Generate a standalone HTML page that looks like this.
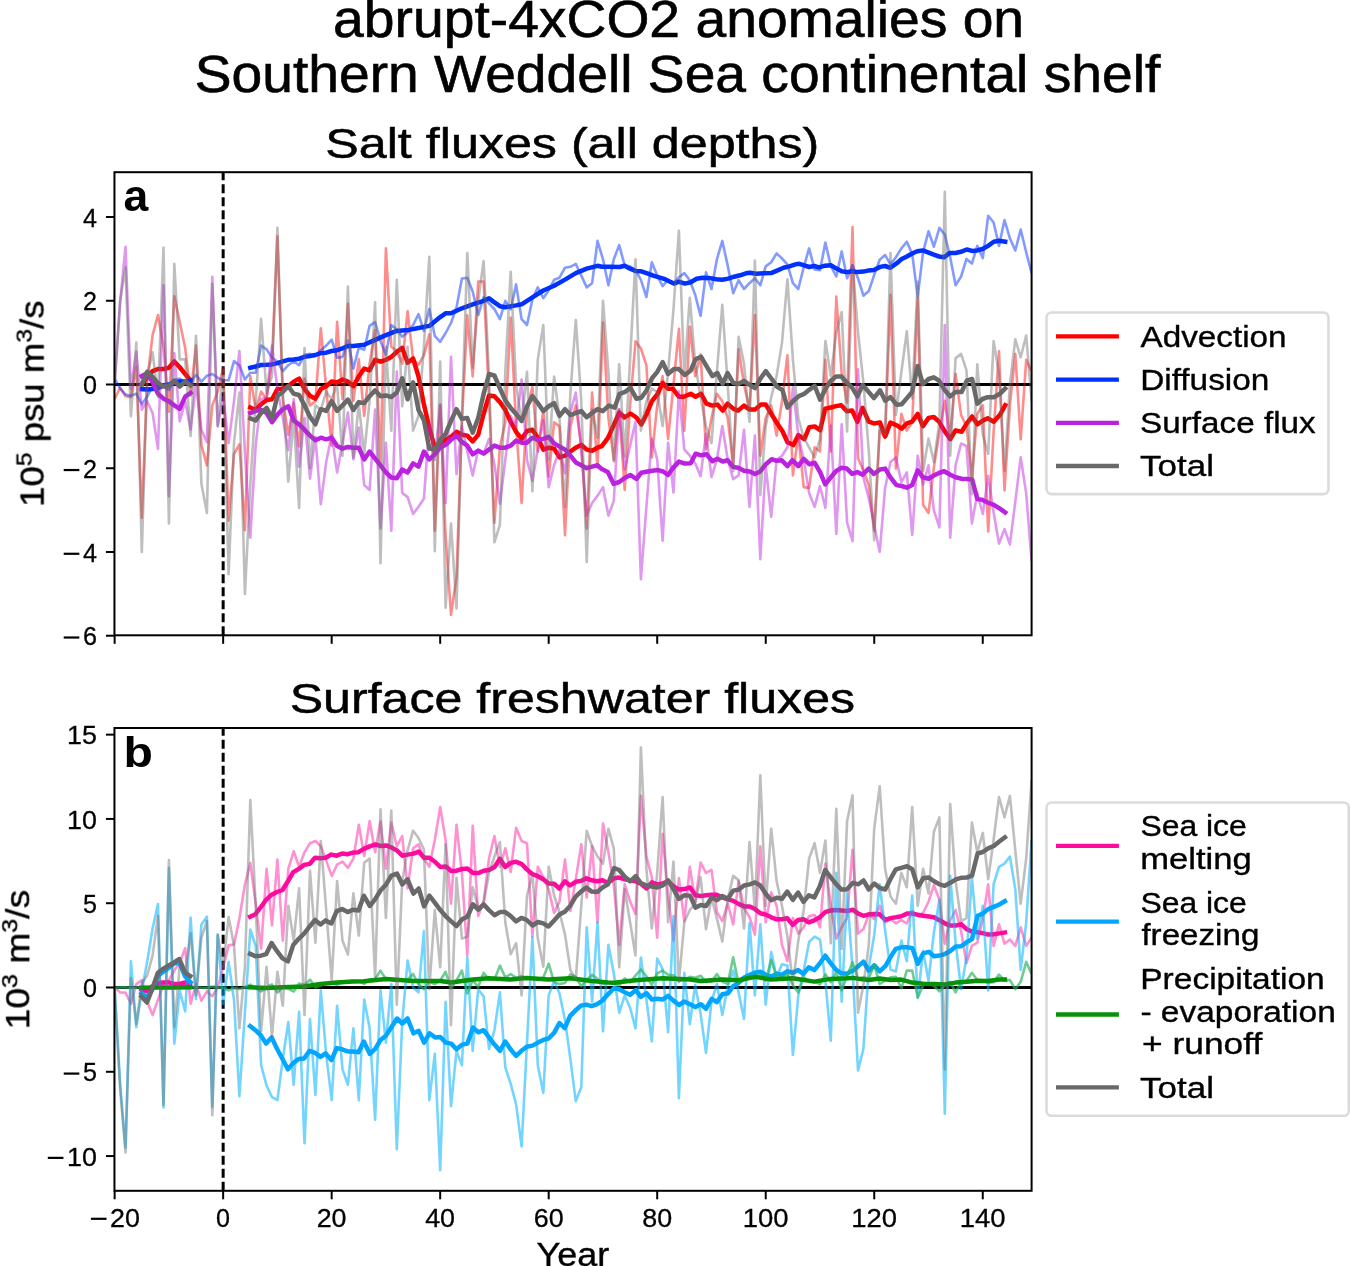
<!DOCTYPE html>
<html><head><meta charset="utf-8"><title>abrupt-4xCO2 anomalies</title>
<style>html,body{margin:0;padding:0;background:#fff}body{width:1350px;height:1266px;overflow:hidden;position:relative;font-family:"Liberation Sans",sans-serif}</style>
</head><body>
<svg width="1350" height="1266" viewBox="0 0 1350 1266" style="display:block;position:absolute;left:0;top:0;will-change:transform">
<defs><clipPath id="ca"><rect x="114.45" y="172.20" width="917.15" height="463.10"/></clipPath><clipPath id="cb"><rect x="114.45" y="728.00" width="917.15" height="462.80"/></clipPath></defs>
<rect width="1350" height="1266" fill="#fff"/>
<line x1="114.45" y1="384.50" x2="1031.60" y2="384.50" stroke="#000" stroke-width="2.8"/><line x1="223.15" y1="635.30" x2="223.15" y2="172.20" stroke="#000" stroke-width="3.0" stroke-dasharray="9.1 3.9"/>
<g clip-path="url(#ca)" fill="none" stroke-linejoin="round">
<path d="M114.6 399.2 L120.1 387.8 L125.5 396.2 L130.9 397.1 L136.3 366.5 L141.8 517.6 L147.2 380.3 L152.6 335.1 L158.0 315.0 L163.5 346.8 L168.9 411.7 L174.3 296.2 L179.7 321.7 L185.2 348.1 L190.6 395.4 L196.0 345.6 L201.4 444.8 L206.9 465.3 L212.3 405.4 L217.7 391.6 L223.2 367.8 L228.6 520.6 L234.0 454.0 L239.4 444.4 L244.9 530.2 L250.3 376.1 L255.7 409.6 L261.1 391.6 L266.6 399.2 L272.0 359.4 L277.4 236.3 L282.8 399.2 L288.3 434.7 L293.7 402.9 L299.1 446.5 L304.5 378.6 L310.0 405.4 L315.4 401.2 L320.8 328.4 L326.2 388.7 L331.7 445.6 L337.1 321.7 L342.5 399.2 L347.9 303.7 L353.4 401.2 L358.8 359.4 L364.2 415.9 L369.6 363.6 L375.1 330.1 L380.5 464.1 L385.9 248.4 L391.3 346.8 L396.8 351.0 L402.2 363.6 L407.6 311.2 L413.1 359.4 L418.5 364.8 L423.9 355.2 L429.3 334.3 L434.8 530.6 L440.2 405.4 L445.6 535.2 L451.0 614.8 L456.5 577.1 L461.9 422.2 L467.3 315.4 L472.7 376.5 L478.2 281.5 L483.6 281.5 L489.0 397.1 L494.4 522.7 L499.9 447.3 L505.3 422.2 L510.7 317.5 L516.1 426.4 L521.6 503.0 L527.0 409.6 L532.4 386.6 L537.8 451.5 L543.3 409.6 L548.7 476.6 L554.1 422.2 L559.5 426.4 L565.0 535.2 L570.4 426.4 L575.8 405.4 L581.3 447.3 L586.7 528.5 L592.1 392.5 L597.5 467.4 L603.0 322.5 L608.4 418.0 L613.8 459.9 L619.2 409.6 L624.7 490.0 L630.1 405.4 L635.5 341.4 L640.9 348.5 L646.4 365.2 L651.8 457.4 L657.2 405.4 L662.6 376.1 L668.1 438.9 L673.5 384.5 L678.9 328.8 L684.3 430.6 L689.8 326.7 L695.2 376.1 L700.6 354.4 L706.0 449.4 L711.5 418.0 L716.9 393.7 L722.3 401.2 L727.7 418.0 L733.2 465.3 L738.6 349.3 L744.0 384.5 L749.5 409.6 L754.9 315.0 L760.3 455.7 L765.7 418.0 L771.2 405.4 L776.6 435.6 L782.0 401.2 L787.4 355.2 L792.9 475.4 L798.3 434.7 L803.7 487.1 L809.1 487.9 L814.6 447.3 L820.0 451.5 L825.4 359.8 L830.8 451.5 L836.3 296.6 L841.7 374.0 L847.1 402.5 L852.5 227.1 L858.0 458.2 L863.4 470.3 L868.8 485.0 L874.2 530.6 L879.7 430.6 L885.1 437.7 L890.5 294.9 L895.9 468.7 L901.4 413.8 L906.8 430.6 L912.2 422.2 L917.7 298.2 L923.1 504.7 L928.5 513.0 L933.9 467.0 L939.4 432.2 L944.8 400.8 L950.2 437.7 L955.6 374.0 L961.1 415.1 L966.5 426.4 L971.9 477.5 L977.3 413.8 L982.8 405.4 L988.2 531.5 L993.6 432.2 L999.0 351.4 L1004.5 490.4 L1009.9 405.4 L1015.3 353.9 L1020.7 439.3 L1026.2 359.8 L1031.6 371.1" stroke="#ff0000" stroke-opacity="0.45" stroke-width="2.6"/>
<path d="M141.8 384.5 L147.2 377.0 L152.6 371.1 L158.0 369.0 L163.5 369.0 L168.9 367.8 L174.3 361.5 L179.7 367.3 L185.2 374.0 L190.6 380.7" stroke="#ff0000" stroke-width="4.5" stroke-linecap="square"/>
<path d="M250.3 407.5 L255.7 410.0 L261.1 404.2 L266.6 400.0 L272.0 399.2 L277.4 389.1 L282.8 388.7 L288.3 386.2 L293.7 381.6 L299.1 378.6 L304.5 389.1 L310.0 395.8 L315.4 398.7 L320.8 389.1 L326.2 386.2 L331.7 381.6 L337.1 382.4 L342.5 379.5 L347.9 381.6 L353.4 386.2 L358.8 376.5 L364.2 368.6 L369.6 370.3 L375.1 359.8 L380.5 361.7 L385.9 359.8 L391.3 356.9 L396.8 351.8 L402.2 347.9 L407.6 362.7 L413.1 358.5 L418.5 376.5 L423.9 404.2 L429.3 428.0 L434.8 447.7 L440.2 443.5 L445.6 439.8 L451.0 436.8 L456.5 431.8 L461.9 434.7 L467.3 435.6 L472.7 441.4 L478.2 434.7 L483.6 414.0 L489.0 395.4 L494.4 396.2 L499.9 402.1 L505.3 410.0 L510.7 421.8 L516.1 431.8 L521.6 438.9 L527.0 431.0 L532.4 429.7 L537.8 437.7 L543.3 449.6 L548.7 447.7 L554.1 448.6 L559.5 457.4 L565.0 455.7 L570.4 451.5 L575.8 447.7 L581.3 444.8 L586.7 449.6 L592.1 450.7 L597.5 447.7 L601.8 446.1 L607.8 438.2 L613.7 425.4 L619.2 412.5 L624.6 417.5 L630.5 413.5 L636.4 417.5 L641.3 424.4 L646.3 414.5 L652.2 400.7 L657.1 394.8 L662.7 382.9 L668.0 388.8 L672.9 388.8 L678.9 396.7 L683.8 396.7 L690.7 393.8 L695.6 396.7 L701.0 393.8 L706.5 403.6 L712.4 405.6 L717.4 404.6 L722.7 410.6 L727.6 403.6 L733.2 408.6 L738.1 410.6 L744.0 405.6 L749.6 409.6 L754.9 409.6 L760.8 404.6 L765.8 404.6 L771.7 414.5 L777.2 423.4 L782.5 431.3 L787.5 442.2 L793.4 445.1 L798.3 435.2 L804.3 439.2 L809.2 427.3 L814.7 426.4 L820.1 430.3 L825.2 408.7 L830.8 407.5 L836.0 406.1 L841.2 405.2 L846.9 411.3 L852.1 410.4 L857.4 421.7 L862.6 407.8 L868.7 421.7 L873.9 423.4 L880.0 422.6 L885.2 436.5 L890.4 422.6 L896.5 425.2 L901.7 428.7 L906.9 423.4 L912.1 421.7 L917.7 413.9 L922.9 426.1 L928.6 417.9 L933.8 417.0 L939.0 421.7 L944.2 430.4 L950.3 439.1 L955.5 430.4 L961.6 431.8 L966.8 423.4 L972.1 416.5 L977.3 424.3 L982.5 420.8 L987.7 418.2 L993.8 421.7 L999.9 414.8 L1005.2 405.2" stroke="#ff0000" stroke-width="4.5" stroke-linecap="square"/>
<path d="M114.6 378.6 L120.1 388.3 L125.5 394.5 L130.9 395.8 L136.3 393.7 L141.8 404.2 L147.2 396.6 L152.6 386.2 L158.0 384.5 L163.5 386.2 L168.9 389.9 L174.3 380.3 L179.7 378.6 L185.2 382.4 L190.6 381.6 L196.0 374.9 L201.4 381.6 L206.9 375.7 L212.3 374.0 L217.7 377.8 L223.2 380.3 L228.6 380.3 L234.0 361.1 L239.4 365.2 L244.9 379.5 L250.3 372.8 L255.7 372.8 L261.1 345.6 L266.6 349.3 L272.0 357.7 L277.4 361.5 L282.8 371.1 L288.3 365.2 L293.7 361.5 L299.1 365.2 L304.5 354.8 L310.0 353.9 L315.4 356.0 L320.8 350.2 L326.2 345.6 L331.7 339.7 L337.1 357.7 L342.5 356.9 L347.9 340.5 L353.4 368.6 L358.8 347.7 L364.2 349.7 L369.6 325.9 L375.1 322.1 L380.5 341.0 L385.9 354.8 L391.3 325.0 L396.8 329.2 L402.2 336.8 L407.6 332.2 L413.1 325.0 L418.5 314.2 L423.9 330.9 L429.3 309.1 L434.8 335.9 L440.2 341.8 L445.6 333.0 L451.0 323.0 L456.5 307.5 L461.9 278.6 L467.3 277.7 L472.7 291.5 L478.2 315.0 L483.6 297.4 L489.0 303.3 L494.4 309.1 L499.9 319.2 L505.3 300.8 L510.7 309.1 L516.1 284.4 L521.6 319.2 L527.0 325.0 L532.4 299.5 L537.8 287.4 L543.3 298.2 L548.7 290.3 L554.1 279.8 L559.5 277.7 L565.0 267.7 L570.4 266.8 L575.8 263.9 L581.3 275.6 L586.7 287.4 L592.1 283.2 L597.5 240.9 L603.0 259.3 L608.4 285.3 L613.8 259.3 L619.2 245.1 L624.7 265.6 L630.1 266.4 L635.5 270.2 L640.9 279.8 L646.4 297.0 L651.8 262.2 L657.2 275.6 L662.6 286.1 L668.1 279.8 L673.5 283.2 L678.9 277.3 L684.3 273.1 L689.8 280.2 L695.2 294.9 L700.6 315.8 L706.0 272.3 L711.5 289.0 L716.9 259.3 L722.3 240.9 L727.7 265.6 L733.2 293.2 L738.6 280.2 L744.0 289.0 L749.5 283.2 L754.9 278.2 L760.3 285.3 L765.7 266.4 L771.2 262.2 L776.6 253.4 L782.0 258.5 L787.4 264.3 L792.9 283.2 L798.3 289.0 L803.7 267.3 L809.1 248.4 L814.6 269.4 L820.0 270.2 L825.4 242.6 L830.8 266.0 L836.3 276.5 L841.7 251.4 L847.1 278.2 L852.5 265.2 L858.0 278.2 L863.4 295.7 L868.8 291.1 L874.2 274.8 L879.7 259.7 L885.1 255.1 L890.5 264.3 L895.9 257.2 L901.4 248.4 L906.8 241.7 L912.2 253.9 L917.7 296.6 L923.1 252.2 L928.5 231.3 L933.9 246.7 L939.4 227.9 L944.8 234.6 L950.2 257.2 L955.6 285.3 L961.1 276.5 L966.5 258.9 L971.9 263.5 L977.3 245.9 L982.8 258.1 L988.2 215.8 L993.6 222.5 L999.0 245.9 L1004.5 220.0 L1009.9 238.4 L1015.3 250.5 L1020.7 229.6 L1026.2 252.2 L1031.6 273.1" stroke="#0230ff" stroke-opacity="0.49" stroke-width="2.6"/>
<path d="M141.8 389.1 L147.2 389.5 L152.6 389.1 L158.0 388.3 L163.5 385.3 L168.9 384.5 L174.3 382.4 L179.7 381.6 L185.2 381.6 L190.6 380.7" stroke="#0230ff" stroke-width="4.5" stroke-linecap="square"/>
<path d="M250.3 367.8 L255.7 366.5 L261.1 365.0 L266.6 364.8 L272.0 364.4 L277.4 363.1 L282.8 361.3 L288.3 359.8 L293.7 359.4 L299.1 358.7 L304.5 356.9 L310.0 356.0 L315.4 355.0 L320.8 353.1 L326.2 352.7 L331.7 351.0 L337.1 350.2 L342.5 348.3 L347.9 346.0 L353.4 346.0 L364.2 344.7 L375.1 339.9 L385.9 335.1 L396.8 330.9 L407.6 330.1 L418.5 328.0 L429.3 325.9 L440.2 317.1 L445.6 313.3 L451.0 313.3 L461.9 308.3 L472.7 304.3 L483.6 300.8 L489.0 298.2 L494.4 302.4 L499.9 306.2 L505.3 307.2 L516.1 305.4 L521.6 304.3 L532.4 297.4 L543.3 290.5 L554.1 285.7 L565.0 279.6 L575.8 273.1 L586.7 268.7 L597.5 265.8 L601.8 266.8 L609.7 266.8 L619.6 267.0 L624.6 265.8 L629.5 268.4 L635.4 270.9 L641.3 271.3 L647.3 273.3 L653.2 275.7 L659.1 277.3 L665.0 279.2 L669.0 281.2 L673.9 283.6 L678.9 281.6 L684.8 283.6 L690.7 282.2 L696.6 278.8 L702.6 277.7 L708.5 277.9 L716.4 279.2 L722.3 279.8 L728.2 278.6 L734.2 276.7 L740.1 275.3 L746.0 273.3 L750.0 272.7 L755.9 273.7 L763.8 273.3 L771.7 272.9 L777.6 270.4 L783.5 267.8 L789.4 266.4 L795.4 264.4 L799.3 263.8 L804.3 265.4 L809.2 267.0 L814.1 266.0 L819.1 267.4 L825.2 265.7 L830.8 265.2 L836.5 268.6 L841.7 271.2 L846.9 272.1 L852.1 271.2 L857.4 272.1 L863.4 271.6 L868.7 270.4 L873.9 269.9 L880.0 266.9 L885.2 266.0 L890.4 267.8 L896.5 263.4 L901.7 259.1 L906.9 256.5 L912.1 253.5 L917.3 251.3 L922.9 250.4 L928.6 252.7 L933.8 254.7 L939.0 256.5 L944.2 257.3 L949.5 253.0 L955.5 253.0 L960.8 251.8 L966.8 249.5 L972.1 250.9 L977.3 250.4 L982.5 249.0 L987.7 246.1 L993.8 241.7 L999.0 240.8 L1005.2 241.7" stroke="#0230ff" stroke-width="4.5" stroke-linecap="square"/>
<path d="M114.6 384.5 L120.1 302.9 L125.5 246.7 L130.9 388.7 L136.3 351.8 L141.8 409.6 L147.2 401.2 L152.6 413.0 L158.0 449.0 L163.5 285.3 L168.9 496.3 L174.3 353.1 L179.7 421.3 L185.2 401.2 L190.6 429.7 L196.0 384.5 L201.4 429.7 L206.9 442.3 L212.3 276.9 L217.7 426.4 L223.2 397.1 L228.6 443.1 L234.0 401.2 L239.4 351.0 L244.9 451.5 L250.3 537.7 L255.7 444.8 L261.1 399.2 L266.6 397.1 L272.0 345.6 L277.4 388.7 L282.8 418.0 L288.3 450.2 L293.7 399.2 L299.1 466.6 L304.5 418.0 L310.0 478.7 L315.4 436.8 L320.8 504.2 L326.2 462.0 L331.7 434.7 L337.1 472.4 L342.5 443.1 L347.9 412.6 L353.4 459.4 L358.8 427.6 L364.2 485.0 L369.6 490.0 L375.1 409.6 L380.5 528.5 L385.9 442.7 L391.3 530.6 L396.8 371.5 L402.2 492.9 L407.6 497.1 L413.1 513.9 L418.5 506.8 L423.9 498.8 L429.3 423.9 L434.8 459.9 L440.2 404.2 L445.6 503.0 L451.0 356.9 L456.5 474.1 L461.9 426.0 L467.3 451.5 L472.7 475.4 L478.2 449.4 L483.6 453.6 L489.0 438.9 L494.4 464.1 L499.9 503.8 L505.3 459.9 L510.7 415.9 L516.1 426.4 L521.6 379.5 L527.0 459.9 L532.4 480.8 L537.8 449.4 L543.3 420.1 L548.7 487.1 L554.1 465.3 L559.5 449.4 L565.0 473.3 L570.4 412.1 L575.8 392.5 L581.3 449.4 L586.7 515.6 L592.1 503.0 L597.5 495.9 L603.0 487.1 L608.4 515.6 L613.8 500.9 L619.2 409.2 L624.7 469.5 L630.1 445.6 L635.5 421.8 L640.9 579.2 L646.4 506.8 L651.8 438.5 L657.2 459.4 L662.6 540.7 L668.1 442.7 L673.5 492.5 L678.9 391.2 L684.3 449.4 L689.8 455.7 L695.2 463.2 L700.6 476.2 L706.0 433.9 L711.5 477.0 L716.9 459.4 L722.3 426.0 L727.7 459.4 L733.2 479.1 L738.6 475.4 L744.0 429.7 L749.5 506.8 L754.9 435.6 L760.3 559.1 L765.7 465.3 L771.2 516.8 L776.6 459.9 L782.0 455.7 L787.4 447.3 L792.9 387.4 L798.3 435.6 L803.7 459.9 L809.1 492.9 L814.6 506.8 L820.0 486.2 L825.4 508.0 L830.8 425.5 L836.3 534.0 L841.7 424.3 L847.1 522.7 L852.5 541.1 L858.0 369.4 L863.4 477.5 L868.8 498.4 L874.2 525.2 L879.7 552.0 L885.1 487.9 L890.5 462.0 L895.9 457.4 L901.4 482.1 L906.8 472.4 L912.2 534.8 L917.7 455.7 L923.1 484.6 L928.5 465.3 L933.9 510.5 L939.4 527.3 L944.8 325.0 L950.2 537.7 L955.6 465.3 L961.1 443.5 L966.5 446.0 L971.9 523.5 L977.3 493.4 L982.8 513.9 L988.2 475.8 L993.6 512.2 L999.0 543.6 L1004.5 529.0 L1009.9 544.4 L1015.3 501.7 L1020.7 457.4 L1026.2 493.4 L1031.6 561.2" stroke="#bb22e0" stroke-opacity="0.47" stroke-width="2.6"/>
<path d="M141.8 376.1 L147.2 373.2 L152.6 382.4 L158.0 393.7 L163.5 398.7 L168.9 401.2 L174.3 405.4 L179.7 408.8 L185.2 396.6 L190.6 392.9" stroke="#bb22e0" stroke-width="4.5" stroke-linecap="square"/>
<path d="M250.3 413.0 L255.7 410.9 L261.1 410.0 L266.6 413.0 L272.0 422.2 L277.4 414.6 L282.8 409.2 L288.3 406.3 L293.7 420.5 L299.1 424.3 L304.5 429.7 L310.0 435.6 L315.4 440.2 L320.8 437.7 L326.2 439.3 L331.7 437.7 L337.1 446.0 L342.5 448.6 L347.9 446.9 L353.4 447.7 L358.8 447.7 L364.2 459.4 L369.6 451.5 L375.1 458.6 L380.5 465.3 L385.9 472.4 L391.3 477.5 L396.8 478.3 L402.2 469.5 L407.6 472.4 L413.1 463.4 L418.5 466.6 L423.9 451.5 L429.3 459.4 L434.8 454.4 L440.2 447.7 L445.6 444.8 L451.0 439.8 L456.5 435.8 L461.9 441.9 L467.3 445.6 L472.7 454.4 L478.2 450.7 L483.6 453.6 L489.0 449.6 L494.4 445.6 L499.9 447.7 L505.3 447.7 L510.7 445.6 L516.1 440.6 L521.6 442.7 L527.0 442.7 L532.4 437.7 L537.8 439.8 L543.3 438.9 L548.7 436.8 L554.1 443.5 L559.5 446.5 L565.0 449.6 L570.4 455.7 L575.8 462.4 L581.3 465.3 L586.7 468.2 L592.1 466.6 L597.5 465.3 L601.8 469.1 L607.8 472.1 L613.7 483.9 L619.2 482.0 L624.6 478.0 L630.5 475.0 L636.4 479.0 L641.3 472.7 L646.3 471.7 L652.2 470.7 L658.1 470.1 L663.1 471.5 L668.0 475.0 L672.9 468.1 L678.9 461.6 L684.8 463.6 L690.7 463.2 L695.6 453.7 L701.0 455.3 L706.5 454.3 L712.4 461.2 L717.4 458.8 L722.7 461.6 L727.6 460.2 L733.2 467.1 L738.1 467.7 L744.0 470.7 L749.6 471.5 L754.9 474.1 L760.2 471.5 L765.8 464.2 L771.7 459.2 L776.6 460.8 L781.5 460.2 L787.5 466.2 L792.4 460.2 L798.3 466.2 L803.7 458.8 L809.2 464.2 L814.7 462.8 L820.1 472.1 L825.2 484.3 L830.8 477.3 L836.0 471.2 L841.2 467.8 L846.9 468.6 L852.1 473.8 L857.4 472.1 L862.6 474.7 L868.7 468.6 L873.9 473.8 L880.0 469.5 L885.2 468.6 L890.4 477.3 L896.5 485.1 L901.7 486.0 L906.9 487.7 L912.1 485.1 L917.7 470.4 L922.9 477.3 L928.6 478.7 L933.8 475.6 L939.0 473.0 L944.2 471.2 L950.3 474.7 L955.5 477.3 L961.6 478.7 L966.8 479.1 L972.1 479.4 L977.3 499.0 L982.5 499.9 L987.7 502.5 L993.8 504.8 L999.9 508.6 L1005.2 512.4" stroke="#bb22e0" stroke-width="4.5" stroke-linecap="square"/>
<path d="M114.6 384.5 L120.1 300.8 L125.5 267.3 L130.9 416.3 L136.3 342.6 L141.8 552.0 L147.2 376.1 L152.6 352.3 L158.0 397.1 L163.5 247.6 L168.9 523.5 L174.3 263.9 L179.7 359.4 L185.2 359.4 L190.6 436.0 L196.0 335.9 L201.4 483.7 L206.9 513.0 L212.3 284.0 L217.7 425.5 L223.2 369.8 L228.6 574.2 L234.0 443.1 L239.4 392.5 L244.9 593.9 L250.3 485.0 L255.7 401.2 L261.1 318.8 L266.6 392.9 L272.0 376.1 L277.4 227.9 L282.8 392.9 L288.3 481.6 L293.7 418.0 L299.1 508.0 L304.5 348.1 L310.0 468.2 L315.4 405.4 L320.8 409.6 L326.2 391.6 L331.7 399.2 L337.1 384.5 L342.5 455.7 L347.9 286.5 L353.4 457.4 L358.8 404.2 L364.2 453.6 L369.6 401.2 L375.1 302.4 L380.5 563.3 L385.9 346.8 L391.3 430.6 L396.8 279.8 L402.2 406.3 L407.6 346.8 L413.1 430.6 L418.5 415.9 L423.9 346.8 L429.3 256.8 L434.8 551.1 L440.2 361.5 L445.6 607.7 L451.0 523.5 L456.5 608.5 L461.9 418.0 L467.3 253.0 L472.7 367.8 L478.2 300.8 L483.6 261.0 L489.0 376.1 L494.4 542.3 L499.9 524.8 L505.3 371.9 L510.7 271.9 L516.1 384.5 L521.6 422.2 L527.0 371.9 L532.4 491.3 L537.8 359.4 L543.3 325.0 L548.7 459.4 L554.1 376.5 L559.5 418.0 L565.0 506.8 L570.4 392.9 L575.8 320.0 L581.3 401.2 L586.7 562.0 L592.1 409.6 L597.5 437.7 L603.0 300.8 L608.4 371.9 L613.8 461.5 L619.2 364.4 L624.7 456.5 L630.1 359.4 L635.5 259.3 L640.9 430.6 L646.4 401.2 L651.8 388.7 L657.2 392.0 L662.6 426.0 L668.1 371.9 L673.5 309.1 L678.9 230.8 L684.3 376.1 L689.8 297.8 L695.2 363.6 L700.6 397.1 L706.0 426.4 L711.5 443.1 L716.9 371.9 L722.3 304.9 L727.7 384.5 L733.2 471.2 L738.6 336.8 L744.0 363.6 L749.5 421.8 L754.9 260.6 L760.3 495.0 L765.7 426.4 L771.2 397.1 L776.6 376.1 L782.0 342.6 L787.4 279.4 L792.9 359.4 L798.3 418.0 L803.7 437.7 L809.1 447.3 L814.6 457.4 L820.0 438.9 L825.4 341.0 L830.8 376.1 L836.3 332.2 L841.7 312.1 L847.1 431.4 L852.5 265.2 L858.0 332.2 L863.4 382.4 L868.8 451.5 L874.2 540.3 L879.7 426.4 L885.1 434.7 L890.5 253.0 L895.9 415.1 L901.4 371.9 L906.8 331.3 L912.2 398.3 L917.7 281.5 L923.1 470.8 L928.5 438.5 L933.9 462.0 L939.4 422.2 L944.8 191.9 L950.2 455.7 L955.6 358.1 L961.1 353.9 L966.5 370.3 L971.9 494.2 L977.3 364.4 L982.8 434.7 L988.2 454.0 L993.6 341.0 L999.0 374.0 L1004.5 470.8 L1009.9 384.5 L1015.3 339.3 L1020.7 357.3 L1026.2 335.5 L1031.6 401.2" stroke="#696969" stroke-opacity="0.43" stroke-width="2.6"/>
<path d="M141.8 384.5 L147.2 371.9 L152.6 377.0 L158.0 383.2 L163.5 386.6 L168.9 386.2 L174.3 380.7 L179.7 386.6 L185.2 381.6 L190.6 385.3" stroke="#696969" stroke-width="4.5" stroke-linecap="square"/>
<path d="M250.3 418.4 L255.7 420.5 L261.1 413.0 L266.6 407.9 L272.0 418.4 L277.4 395.8 L282.8 392.0 L288.3 386.2 L293.7 393.7 L299.1 395.0 L304.5 405.4 L310.0 416.7 L315.4 424.3 L320.8 409.2 L326.2 410.9 L331.7 401.2 L337.1 410.9 L342.5 405.4 L347.9 399.6 L353.4 410.0 L358.8 402.1 L364.2 403.1 L369.6 396.2 L375.1 390.4 L380.5 396.2 L385.9 395.4 L391.3 397.1 L396.8 392.5 L402.2 378.4 L407.6 399.2 L413.1 382.4 L418.5 410.0 L423.9 420.1 L429.3 448.6 L434.8 449.6 L440.2 439.8 L445.6 433.9 L451.0 420.9 L456.5 409.2 L461.9 418.8 L467.3 418.0 L472.7 432.7 L478.2 418.0 L483.6 394.1 L489.0 374.0 L494.4 375.5 L499.9 388.3 L505.3 400.2 L510.7 407.9 L516.1 414.0 L521.6 420.9 L527.0 406.3 L532.4 396.2 L537.8 403.1 L543.3 411.1 L548.7 406.3 L554.1 403.1 L559.5 415.9 L565.0 409.2 L570.4 415.1 L575.8 413.0 L581.3 411.1 L586.7 417.2 L592.1 413.0 L597.5 409.2 L602.8 411.2 L608.8 405.6 L614.7 407.6 L619.6 393.8 L624.6 392.2 L630.5 387.9 L636.4 398.7 L641.3 397.7 L646.3 390.8 L652.2 378.0 L657.1 372.1 L662.7 362.2 L668.0 374.0 L673.9 369.1 L678.9 369.1 L684.8 375.0 L690.7 370.5 L695.6 359.2 L701.0 356.7 L706.5 366.1 L712.4 376.0 L717.4 373.0 L722.7 383.9 L727.6 373.0 L733.2 382.9 L738.1 383.9 L744.0 380.9 L749.6 384.9 L754.9 388.2 L760.8 378.0 L765.8 371.1 L771.7 379.0 L777.2 386.9 L782.5 390.2 L787.5 407.6 L793.4 400.7 L799.3 395.8 L804.3 393.8 L809.2 389.8 L814.7 385.9 L820.1 399.7 L825.2 389.4 L830.8 380.7 L836.0 376.4 L841.2 376.4 L846.9 382.5 L852.1 387.7 L857.4 396.4 L862.6 385.1 L868.7 392.0 L873.9 398.1 L880.0 390.3 L885.2 400.7 L890.4 397.2 L896.5 404.7 L901.7 404.2 L906.9 398.1 L912.1 392.0 L917.7 366.0 L922.9 384.2 L928.6 379.0 L933.8 377.3 L939.0 380.7 L944.2 389.4 L950.3 396.4 L955.5 392.0 L961.6 392.0 L966.8 380.7 L972.1 379.0 L977.3 403.7 L982.5 399.0 L987.7 397.2 L993.8 397.2 L999.9 393.8 L1005.2 388.5" stroke="#696969" stroke-width="4.5" stroke-linecap="square"/>
</g>
<line x1="114.45" y1="987.50" x2="1031.60" y2="987.50" stroke="#000" stroke-width="2.8"/><line x1="223.15" y1="1190.80" x2="223.15" y2="728.00" stroke="#000" stroke-width="3.0" stroke-dasharray="9.1 3.9"/>
<g clip-path="url(#cb)" fill="none" stroke-linejoin="round">
<path d="M114.6 987.5 L120.1 992.4 L125.5 992.6 L130.9 1003.7 L136.3 984.1 L141.8 980.1 L147.2 1001.7 L152.6 1015.0 L158.0 999.6 L163.5 984.1 L168.9 980.1 L174.3 970.6 L179.7 962.6 L185.2 948.2 L190.6 1003.7 L196.0 984.1 L201.4 1000.6 L206.9 991.4 L212.3 996.4 L217.7 987.5 L223.2 967.3 L228.6 945.4 L234.0 944.5 L239.4 918.4 L244.9 884.7 L250.3 862.8 L255.7 903.7 L261.1 948.7 L266.6 868.8 L272.0 925.3 L277.4 859.6 L282.8 940.6 L288.3 868.8 L293.7 851.3 L299.1 866.8 L304.5 852.3 L310.0 843.2 L315.4 841.0 L320.8 846.2 L326.2 860.6 L331.7 875.9 L337.1 864.6 L342.5 861.6 L347.9 867.8 L353.4 858.5 L358.8 824.7 L364.2 856.0 L369.6 821.1 L375.1 852.3 L380.5 821.6 L385.9 868.8 L391.3 822.6 L396.8 846.2 L402.2 836.0 L407.6 888.4 L413.1 848.3 L418.5 844.2 L423.9 858.5 L429.3 866.8 L434.8 840.0 L440.2 807.1 L445.6 840.0 L451.0 903.7 L456.5 824.7 L461.9 872.9 L467.3 955.1 L472.7 825.7 L478.2 916.0 L483.6 901.7 L489.0 858.5 L494.4 836.0 L499.9 866.8 L505.3 848.3 L510.7 871.9 L516.1 827.7 L521.6 841.0 L527.0 843.2 L532.4 936.6 L537.8 866.8 L543.3 877.1 L548.7 889.4 L554.1 913.0 L559.5 901.5 L565.0 859.6 L570.4 911.0 L575.8 879.1 L581.3 844.2 L586.7 897.5 L592.1 846.2 L597.5 922.3 L603.0 823.6 L608.4 852.3 L613.8 885.2 L619.2 944.9 L624.7 884.2 L630.1 901.5 L635.5 914.0 L640.9 795.8 L646.4 856.5 L651.8 877.1 L657.2 937.6 L662.6 833.9 L668.1 895.5 L673.5 940.6 L678.9 878.1 L684.3 921.1 L689.8 866.8 L695.2 901.7 L700.6 862.6 L706.0 872.9 L711.5 869.8 L716.9 912.0 L722.3 921.1 L727.7 903.7 L733.2 924.3 L738.6 881.1 L744.0 908.8 L749.5 917.0 L754.9 934.6 L760.3 846.2 L765.7 922.3 L771.2 892.4 L776.6 905.7 L782.0 944.9 L787.4 961.2 L792.9 918.0 L798.3 933.6 L803.7 927.3 L809.1 916.0 L814.6 915.0 L820.0 927.3 L825.4 863.6 L830.8 905.7 L836.3 938.6 L841.7 927.3 L847.1 918.0 L852.5 849.8 L858.0 933.6 L863.4 929.3 L868.8 914.0 L874.2 919.1 L879.7 905.7 L885.1 922.3 L890.5 919.1 L895.9 923.3 L901.4 920.1 L906.8 923.3 L912.2 911.0 L917.7 916.0 L923.1 913.0 L928.5 901.7 L933.9 885.2 L939.4 899.8 L944.8 943.7 L950.2 920.1 L955.6 910.0 L961.1 931.4 L966.5 963.2 L971.9 945.9 L977.3 942.7 L982.8 919.1 L988.2 884.2 L993.6 945.9 L999.0 924.3 L1004.5 943.7 L1009.9 939.6 L1015.3 945.9 L1020.7 927.3 L1026.2 945.9 L1031.6 937.6" stroke="#ff0a9e" stroke-opacity="0.45" stroke-width="2.6"/>
<path d="M141.4 989.2 L147.0 991.2 L152.5 986.1 L157.9 983.0 L163.4 982.4 L168.7 982.4 L174.1 984.0 L179.4 984.0 L185.0 982.4 L190.3 983.0" stroke="#ff0a9e" stroke-width="4.5" stroke-linecap="square"/>
<path d="M250.1 916.7 L255.4 914.2 L260.9 907.0 L266.1 899.8 L271.6 894.7 L277.0 892.0 L282.5 890.0 L287.9 881.3 L293.2 872.1 L298.7 869.0 L304.1 864.9 L309.6 863.9 L315.0 857.7 L320.5 858.3 L325.6 857.7 L331.4 854.6 L336.7 855.7 L342.1 853.6 L347.6 854.2 L353.0 852.6 L358.5 852.2 L363.8 848.9 L369.9 846.4 L375.4 844.4 L380.5 846.0 L386.1 845.4 L391.4 847.5 L397.0 850.5 L402.3 855.7 L407.6 854.6 L413.4 853.6 L418.7 851.6 L424.1 857.7 L429.4 857.7 L435.0 861.8 L440.3 867.0 L445.8 866.6 L451.2 871.1 L456.5 870.7 L462.1 869.0 L467.4 868.6 L473.0 873.1 L478.3 873.1 L483.6 870.7 L489.0 870.0 L494.5 867.0 L499.9 858.8 L505.2 867.0 L510.5 862.9 L516.1 861.8 L521.4 863.9 L526.8 869.4 L532.5 874.2 L537.9 876.2 L543.2 879.3 L548.5 883.4 L554.1 883.8 L559.4 888.5 L564.8 881.3 L570.1 885.5 L575.6 881.8 L581.0 880.9 L586.3 878.3 L591.7 880.3 L597.2 881.3 L602.5 880.3 L607.9 883.0 L614.1 878.3 L619.2 877.6 L624.8 879.3 L630.1 880.3 L635.7 881.3 L640.8 883.8 L646.6 888.5 L651.9 882.4 L657.2 884.4 L662.8 883.4 L668.1 881.3 L673.7 886.5 L679.0 889.6 L684.3 889.1 L690.1 887.5 L695.4 895.3 L700.8 896.1 L706.1 895.3 L711.7 894.7 L716.8 894.7 L722.3 897.4 L727.9 899.4 L733.2 900.9 L738.6 903.9 L744.1 906.4 L749.7 906.4 L755.0 909.1 L760.3 913.2 L765.7 914.6 L771.2 917.3 L776.6 919.3 L781.9 919.3 L787.2 918.3 L792.8 924.9 L798.1 920.0 L803.5 919.3 L808.8 922.4 L814.3 920.4 L819.7 917.3 L825.2 912.1 L830.6 910.5 L835.9 910.1 L841.5 910.5 L846.8 911.1 L853.0 909.8 L858.3 913.6 L863.5 915.8 L868.8 914.3 L874.3 913.9 L879.7 914.3 L885.3 919.9 L890.5 918.1 L895.8 917.3 L901.3 916.3 L907.0 913.6 L912.3 913.6 L917.8 914.8 L923.2 915.8 L928.8 916.6 L934.0 917.3 L939.4 920.3 L944.8 923.3 L950.3 925.6 L955.8 925.6 L961.1 924.1 L966.8 929.3 L972.0 931.6 L977.6 932.3 L982.8 933.1 L988.1 934.6 L993.8 934.3 L999.3 933.4 L1004.9 932.5" stroke="#ff0a9e" stroke-width="4.5" stroke-linecap="square"/>
<path d="M114.6 987.5 L120.1 1083.6 L125.5 1147.6 L130.9 961.4 L136.3 1027.3 L141.8 990.9 L147.2 961.4 L152.6 928.5 L158.0 903.9 L163.5 1107.4 L168.9 867.8 L174.3 1043.6 L179.7 990.9 L185.2 1011.4 L190.6 917.5 L196.0 999.0 L201.4 924.5 L206.9 916.7 L212.3 1107.2 L217.7 934.7 L223.2 1004.0 L228.6 961.9 L234.0 1000.0 L239.4 1096.1 L244.9 1012.8 L250.3 929.5 L255.7 946.0 L261.1 1065.0 L266.6 1085.8 L272.0 1097.1 L277.4 1100.1 L282.8 1059.1 L288.3 1022.1 L293.7 1084.8 L299.1 1011.9 L304.5 1143.3 L310.0 1019.0 L315.4 1095.0 L320.8 990.4 L326.2 1054.9 L331.7 1100.1 L337.1 1005.7 L342.5 1069.4 L347.9 1084.8 L353.4 1028.3 L358.8 1100.1 L364.2 999.6 L369.6 1028.0 L375.1 1119.7 L380.5 990.4 L385.9 1042.6 L391.3 984.1 L396.8 1149.3 L402.2 1022.1 L407.6 960.5 L413.1 987.5 L418.5 992.4 L423.9 931.4 L429.3 1100.1 L434.8 1053.9 L440.2 1170.1 L445.6 1001.7 L451.0 1106.3 L456.5 1050.9 L461.9 1065.2 L467.3 957.2 L472.7 1050.9 L478.2 989.2 L483.6 996.4 L489.0 1048.9 L494.4 1030.3 L499.9 992.4 L505.3 1067.4 L510.7 1083.8 L516.1 1104.3 L521.6 1146.5 L527.0 1042.6 L532.4 937.6 L537.8 1065.2 L543.3 1093.0 L548.7 995.4 L554.1 981.1 L559.5 993.4 L565.0 1020.0 L570.4 1059.1 L575.8 1101.3 L581.3 1087.0 L586.7 927.3 L592.1 1001.7 L597.5 922.3 L603.0 1031.3 L608.4 944.9 L613.8 973.2 L619.2 1012.8 L624.7 995.4 L630.1 1007.7 L635.5 1028.3 L640.9 957.5 L646.4 999.3 L651.8 1041.4 L657.2 958.5 L662.6 969.0 L668.1 1032.3 L673.5 916.0 L678.9 1098.1 L684.3 972.8 L689.8 1024.2 L695.2 985.1 L700.6 1014.0 L706.0 1052.9 L711.5 1001.7 L716.9 984.1 L722.3 1015.0 L727.7 986.2 L733.2 970.6 L738.6 992.4 L744.0 1019.0 L749.5 923.3 L754.9 995.4 L760.3 924.3 L765.7 1004.7 L771.2 952.1 L776.6 977.0 L782.0 964.2 L787.4 965.6 L792.9 1054.9 L798.3 995.4 L803.7 970.6 L809.1 942.0 L814.6 936.6 L820.0 939.6 L825.4 981.1 L830.8 1040.6 L836.3 872.9 L841.7 1001.7 L847.1 893.4 L852.5 969.0 L858.0 1070.4 L863.4 1048.9 L868.8 967.3 L874.2 935.2 L879.7 884.2 L885.1 930.4 L890.5 969.5 L895.9 971.5 L901.4 940.6 L906.8 961.2 L912.2 895.5 L917.7 997.6 L923.1 950.9 L928.5 980.8 L933.9 932.4 L939.4 899.8 L944.8 1113.6 L950.2 875.9 L955.6 942.7 L961.1 989.2 L966.5 957.2 L971.9 877.1 L977.3 938.6 L982.8 905.7 L988.2 990.4 L993.6 884.2 L999.0 866.8 L1004.5 863.6 L1009.9 856.5 L1015.3 889.4 L1020.7 969.8 L1026.2 922.3 L1031.6 840.0" stroke="#00b2ff" stroke-opacity="0.55" stroke-width="2.6"/>
<path d="M141.4 993.3 L147.0 997.4 L152.5 989.2 L157.9 975.8 L163.4 971.7 L168.7 967.6 L174.1 963.5 L179.4 962.5 L185.0 976.2 L190.3 982.0" stroke="#02a6fe" stroke-width="4.5" stroke-linecap="square"/>
<path d="M250.1 1026.1 L255.4 1030.2 L260.9 1035.4 L266.1 1043.6 L271.6 1037.4 L277.0 1048.7 L282.5 1059.0 L287.9 1069.3 L293.2 1063.1 L298.7 1059.0 L304.1 1058.4 L309.6 1050.8 L315.0 1052.8 L320.5 1056.9 L325.6 1053.4 L331.4 1060.0 L336.7 1048.1 L342.1 1049.3 L347.6 1051.4 L353.0 1051.4 L358.5 1052.2 L363.8 1041.5 L369.9 1053.9 L375.4 1048.7 L380.5 1039.9 L386.1 1035.4 L391.4 1027.2 L397.0 1018.5 L402.3 1023.5 L407.6 1018.5 L413.4 1033.3 L418.7 1030.9 L424.1 1042.6 L429.4 1033.3 L435.0 1037.4 L440.3 1037.0 L445.8 1042.6 L451.2 1043.6 L456.5 1049.3 L462.1 1044.6 L467.4 1043.6 L473.0 1027.6 L478.3 1032.3 L483.6 1030.2 L489.0 1037.4 L494.5 1044.6 L499.9 1050.8 L505.2 1041.5 L510.5 1049.3 L516.1 1055.9 L521.4 1050.8 L526.8 1046.7 L532.5 1045.6 L537.9 1042.6 L543.2 1039.9 L548.5 1038.5 L554.1 1032.9 L559.4 1023.0 L564.8 1028.2 L570.1 1015.9 L575.6 1010.3 L581.0 1005.6 L586.3 1004.6 L591.7 1006.2 L597.2 1004.2 L602.5 1000.5 L607.9 994.3 L614.1 988.1 L619.2 989.2 L624.8 992.2 L630.1 994.7 L635.7 990.2 L640.8 996.8 L646.6 993.3 L651.9 999.4 L657.2 998.8 L662.8 999.4 L668.1 995.9 L673.7 1000.9 L679.0 1005.0 L684.3 1001.5 L690.1 1004.2 L695.4 1007.0 L700.8 1004.2 L706.1 1008.7 L711.7 998.8 L716.8 1002.1 L722.3 994.3 L727.9 993.3 L733.2 986.1 L738.6 983.0 L744.1 977.5 L749.7 974.8 L755.0 972.7 L760.3 971.7 L765.7 974.8 L771.2 976.8 L776.6 973.8 L781.9 974.8 L787.2 971.3 L792.8 972.7 L798.1 970.1 L803.5 973.8 L808.8 967.2 L814.3 970.1 L819.7 963.5 L825.2 955.7 L830.6 963.1 L835.9 969.7 L841.5 973.3 L846.8 973.8 L853.0 970.6 L858.3 966.1 L863.5 961.6 L868.8 970.6 L874.3 965.3 L879.7 971.3 L885.3 966.1 L890.5 957.1 L895.8 948.8 L901.3 947.3 L907.0 947.3 L912.3 948.1 L917.8 963.8 L923.2 953.3 L928.8 951.8 L934.0 956.3 L939.4 955.6 L944.8 954.1 L950.3 951.1 L955.8 946.6 L961.1 946.3 L966.8 942.1 L972.0 939.1 L977.6 915.8 L982.8 913.6 L988.1 909.1 L993.8 906.8 L999.3 904.5 L1004.9 901.2" stroke="#02a6fe" stroke-width="4.5" stroke-linecap="square"/>
<path d="M114.6 987.8 L120.1 987.4 L125.5 987.2 L130.9 988.0 L136.3 987.6 L141.8 987.0 L147.2 987.5 L152.6 987.1 L158.0 987.1 L163.5 988.4 L168.9 987.1 L174.3 987.8 L179.7 987.5 L185.2 987.5 L190.6 987.0 L196.0 987.2 L201.4 987.8 L206.9 987.9 L212.3 986.6 L217.7 987.4 L223.2 987.8 L228.6 990.4 L234.0 987.9 L239.4 989.1 L244.9 987.2 L250.3 984.6 L255.7 988.1 L261.1 991.4 L266.6 987.4 L272.0 984.4 L277.4 992.5 L282.8 987.2 L288.3 988.6 L293.7 991.5 L299.1 983.4 L304.5 985.1 L310.0 979.6 L315.4 987.5 L320.8 985.5 L326.2 982.8 L331.7 983.0 L337.1 984.8 L342.5 982.3 L347.9 982.5 L353.4 981.0 L358.8 981.3 L364.2 983.9 L369.6 979.3 L375.1 979.0 L380.5 970.6 L385.9 979.1 L391.3 979.9 L396.8 980.9 L402.2 980.0 L407.6 979.5 L413.1 974.0 L418.5 984.1 L423.9 989.2 L429.3 981.4 L434.8 984.3 L440.2 980.5 L445.6 971.8 L451.0 988.3 L456.5 980.3 L461.9 970.6 L467.3 993.4 L472.7 980.2 L478.2 987.0 L483.6 972.8 L489.0 979.3 L494.4 979.7 L499.9 965.6 L505.3 977.3 L510.7 974.0 L516.1 977.9 L521.6 976.3 L527.0 978.2 L532.4 978.4 L537.8 978.5 L543.3 977.7 L548.7 963.6 L554.1 982.1 L559.5 984.1 L565.0 982.9 L570.4 974.4 L575.8 977.0 L581.3 986.3 L586.7 979.5 L592.1 974.9 L597.5 978.9 L603.0 983.9 L608.4 982.3 L613.8 982.9 L619.2 985.4 L624.7 978.4 L630.1 982.2 L635.5 975.6 L640.9 969.5 L646.4 976.2 L651.8 985.0 L657.2 973.4 L662.6 970.6 L668.1 974.8 L673.5 975.3 L678.9 981.1 L684.3 979.7 L689.8 976.8 L695.2 977.7 L700.6 975.7 L706.0 981.9 L711.5 981.5 L716.9 974.1 L722.3 981.8 L727.7 983.9 L733.2 957.2 L738.6 983.5 L744.0 980.1 L749.5 975.9 L754.9 978.3 L760.3 974.5 L765.7 980.8 L771.2 960.2 L776.6 976.8 L782.0 977.6 L787.4 973.8 L792.9 985.2 L798.3 992.4 L803.7 976.9 L809.1 981.5 L814.6 981.2 L820.0 984.3 L825.4 974.3 L830.8 982.2 L836.3 972.0 L841.7 990.4 L847.1 975.7 L852.5 962.2 L858.0 979.0 L863.4 977.2 L868.8 978.5 L874.2 964.4 L879.7 984.0 L885.1 980.4 L890.5 977.3 L895.9 976.7 L901.4 988.3 L906.8 970.6 L912.2 970.6 L917.7 997.6 L923.1 985.4 L928.5 983.2 L933.9 985.8 L939.4 991.4 L944.8 985.1 L950.2 981.8 L955.6 992.4 L961.1 981.9 L966.5 980.9 L971.9 972.8 L977.3 980.0 L982.8 980.6 L988.2 982.7 L993.6 982.2 L999.0 974.5 L1004.5 980.6 L1009.9 980.0 L1015.3 989.2 L1020.7 981.8 L1026.2 961.9 L1031.6 974.0" stroke="#28b45f" stroke-opacity="0.68" stroke-width="2.6"/>
<path d="M141.4 987.7 L157.9 987.5 L174.1 987.5 L190.3 987.3" stroke="#069206" stroke-width="4.5" stroke-linecap="square"/>
<path d="M250.1 987.3 L266.1 988.1 L282.5 987.3 L304.1 986.5 L320.5 984.0 L336.7 982.4 L353.0 981.6 L363.8 981.2 L386.1 978.9 L413.4 980.9 L440.3 980.9 L451.2 982.4 L473.0 979.5 L489.0 978.3 L510.5 979.5 L526.8 977.9 L548.5 979.5 L570.1 978.3 L591.7 980.9 L607.9 982.4 L614.1 982.8 L635.7 980.3 L662.8 978.3 L690.1 979.5 L700.8 980.9 L722.3 979.5 L738.6 980.3 L755.0 976.8 L771.2 979.5 L792.8 978.3 L814.3 981.6 L830.6 978.9 L846.8 978.3 L853.0 977.9 L858.3 978.8 L868.8 979.9 L879.7 978.4 L890.5 979.9 L901.3 979.6 L912.3 982.6 L923.2 983.8 L934.0 984.1 L944.8 984.4 L955.8 982.6 L966.8 981.8 L977.6 980.8 L988.1 981.1 L999.3 979.6 L1004.9 979.6" stroke="#069206" stroke-width="4.5" stroke-linecap="square"/>
<path d="M114.6 987.8 L120.1 1088.4 L125.5 1152.4 L130.9 978.0 L136.3 1024.1 L141.8 983.0 L147.2 975.6 L152.6 955.6 L158.0 915.7 L163.5 1104.9 L168.9 860.0 L174.3 1027.1 L179.7 966.0 L185.2 972.1 L190.6 933.3 L196.0 995.3 L201.4 937.9 L206.9 921.0 L212.3 1115.2 L217.7 934.6 L223.2 967.3 L228.6 917.0 L234.0 945.4 L239.4 1028.3 L244.9 967.3 L250.3 800.1 L255.7 905.7 L261.1 1031.3 L266.6 966.9 L272.0 1036.4 L277.4 971.7 L282.8 1005.7 L288.3 905.7 L293.7 940.6 L299.1 888.4 L304.5 1015.0 L310.0 870.8 L315.4 942.7 L320.8 841.0 L326.2 910.0 L331.7 980.1 L337.1 881.1 L342.5 940.6 L347.9 954.6 L353.4 893.4 L358.8 935.6 L364.2 862.8 L369.6 858.5 L375.1 977.4 L380.5 809.3 L385.9 918.0 L391.3 810.5 L396.8 1004.7 L402.2 881.3 L407.6 850.3 L413.1 830.7 L418.5 838.0 L423.9 849.3 L429.3 989.2 L434.8 910.0 L440.2 967.3 L445.6 844.2 L451.0 1025.3 L456.5 877.9 L461.9 938.6 L467.3 936.6 L472.7 887.2 L478.2 907.8 L483.6 903.7 L489.0 872.9 L494.4 856.5 L499.9 842.0 L505.3 922.3 L510.7 954.3 L516.1 943.2 L521.6 995.4 L527.0 895.5 L532.4 874.9 L537.8 938.6 L543.3 966.8 L548.7 866.8 L554.1 895.5 L559.5 912.0 L565.0 934.6 L570.4 970.1 L575.8 979.1 L581.3 905.7 L586.7 830.7 L592.1 846.2 L597.5 856.5 L603.0 863.6 L608.4 828.7 L613.8 848.3 L619.2 967.3 L624.7 889.4 L630.1 922.3 L635.5 955.5 L640.9 747.6 L646.4 868.8 L651.8 928.5 L657.2 872.9 L662.6 797.0 L668.1 922.3 L673.5 861.6 L678.9 982.1 L684.3 922.3 L689.8 910.0 L695.2 903.7 L700.6 877.1 L706.0 929.3 L711.5 897.5 L716.9 918.4 L722.3 941.6 L727.7 899.8 L733.2 875.9 L738.6 880.1 L744.0 928.5 L749.5 842.0 L754.9 910.0 L760.3 775.3 L765.7 905.7 L771.2 828.7 L776.6 881.1 L782.0 905.7 L787.4 936.6 L792.9 984.1 L798.3 940.6 L803.7 910.0 L809.1 858.5 L814.6 843.2 L820.0 872.9 L825.4 840.5 L830.8 943.2 L836.3 808.8 L841.7 948.9 L847.1 821.1 L852.5 795.3 L858.0 1012.8 L863.4 985.1 L868.8 945.4 L874.2 828.7 L879.7 786.2 L885.1 868.8 L890.5 896.5 L895.9 903.7 L901.4 872.9 L906.8 887.2 L912.2 807.1 L917.7 905.7 L923.1 868.8 L928.5 893.4 L933.9 831.7 L939.4 817.4 L944.8 1069.4 L950.2 804.1 L955.6 881.1 L961.1 921.1 L966.5 918.0 L971.9 822.6 L977.3 852.3 L982.8 832.9 L988.2 879.1 L993.6 840.0 L999.0 797.0 L1004.5 817.4 L1009.9 795.8 L1015.3 850.3 L1020.7 903.7 L1026.2 858.5 L1031.6 780.2" stroke="#696969" stroke-opacity="0.43" stroke-width="2.6"/>
<path d="M141.4 996.4 L147.0 1002.5 L152.5 988.1 L157.9 972.7 L163.4 968.6 L168.7 965.5 L174.1 962.5 L179.4 959.0 L185.0 972.7 L190.3 976.2" stroke="#696969" stroke-width="4.5" stroke-linecap="square"/>
<path d="M250.1 953.8 L255.4 956.3 L260.9 955.7 L266.1 954.2 L271.6 943.0 L277.0 951.2 L282.5 958.4 L287.9 961.4 L293.2 945.0 L298.7 938.8 L304.1 933.7 L309.6 926.5 L315.0 920.0 L320.5 924.5 L325.6 920.4 L331.4 923.4 L336.7 911.1 L342.1 909.1 L347.6 912.1 L353.0 909.7 L358.5 910.5 L363.8 895.7 L369.9 906.0 L375.4 898.8 L380.5 890.6 L386.1 884.4 L391.4 875.6 L397.0 873.5 L402.3 884.4 L407.6 879.3 L413.4 893.7 L418.7 888.5 L424.1 906.4 L429.4 895.7 L435.0 902.9 L440.3 910.1 L445.8 916.3 L451.2 921.4 L456.5 926.1 L462.1 919.3 L467.4 916.7 L473.0 904.3 L478.3 909.7 L483.6 904.3 L489.0 910.1 L494.5 915.2 L499.9 912.1 L505.2 912.1 L510.5 915.8 L516.1 921.4 L521.4 917.9 L526.8 920.0 L532.5 925.5 L537.9 922.0 L543.2 923.4 L548.5 926.5 L554.1 920.4 L559.4 914.6 L564.8 911.7 L570.1 906.0 L575.6 896.7 L581.0 891.6 L586.3 887.5 L591.7 891.6 L597.2 892.0 L602.5 887.5 L607.9 884.4 L614.1 868.0 L619.2 870.0 L624.8 876.8 L630.1 881.3 L635.7 876.2 L640.8 883.0 L646.6 885.5 L651.9 886.5 L657.2 887.5 L662.8 885.5 L668.1 880.3 L673.7 889.6 L679.0 898.8 L684.3 895.3 L690.1 895.7 L695.4 907.6 L700.8 905.0 L706.1 906.0 L711.7 897.4 L716.8 900.2 L722.3 896.1 L727.9 898.8 L733.2 890.6 L738.6 889.6 L744.1 885.5 L749.7 884.4 L755.0 882.4 L760.3 885.5 L765.7 893.7 L771.2 900.2 L776.6 897.8 L781.9 898.8 L787.2 891.6 L792.8 899.8 L798.1 892.6 L803.5 901.9 L808.8 895.3 L814.3 897.4 L819.7 886.5 L825.2 870.0 L830.6 877.2 L835.9 883.8 L841.5 889.6 L846.8 889.6 L853.0 882.8 L858.3 884.3 L863.5 880.5 L868.8 889.5 L874.3 883.5 L879.7 888.0 L885.3 889.5 L890.5 879.0 L895.8 869.3 L901.3 867.8 L907.0 866.3 L912.3 869.3 L917.8 887.3 L923.2 878.3 L928.8 877.5 L934.0 881.3 L939.4 884.3 L944.8 885.8 L950.3 882.8 L955.8 879.3 L961.1 877.8 L966.8 877.5 L972.0 875.7 L977.6 853.5 L982.8 852.0 L988.1 848.3 L993.8 846.0 L999.3 841.5 L1004.9 837.3" stroke="#696969" stroke-width="4.5" stroke-linecap="square"/>
</g>
<rect x="114.45" y="172.20" width="917.15" height="463.10" fill="none" stroke="#000" stroke-width="2.00"/>
<rect x="114.45" y="728.00" width="917.15" height="462.80" fill="none" stroke="#000" stroke-width="2.00"/>
<g font-family="Liberation Sans, sans-serif" fill="#000" opacity="0.999">
<line x1="114.63" y1="635.30" x2="114.63" y2="643.80" stroke="#000" stroke-width="2.00"/>
<line x1="114.63" y1="1190.80" x2="114.63" y2="1199.30" stroke="#000" stroke-width="2.00"/>
<rect x="90.91" y="1217.70" width="15.65" height="2.2"/><text x="110.11" y="1226.70" font-size="26.30" text-anchor="start" stroke="#000" stroke-width="0.3" textLength="29.9" lengthAdjust="spacingAndGlyphs">20</text>
<line x1="223.15" y1="635.30" x2="223.15" y2="643.80" stroke="#000" stroke-width="2.00"/>
<line x1="223.15" y1="1190.80" x2="223.15" y2="1199.30" stroke="#000" stroke-width="2.00"/>
<text x="216.10" y="1226.70" font-size="26.30" text-anchor="start" stroke="#000" stroke-width="0.3" textLength="14.0" lengthAdjust="spacingAndGlyphs">0</text>
<line x1="331.67" y1="635.30" x2="331.67" y2="643.80" stroke="#000" stroke-width="2.00"/>
<line x1="331.67" y1="1190.80" x2="331.67" y2="1199.30" stroke="#000" stroke-width="2.00"/>
<text x="316.67" y="1226.70" font-size="26.30" text-anchor="start" stroke="#000" stroke-width="0.3" textLength="29.9" lengthAdjust="spacingAndGlyphs">20</text>
<line x1="440.18" y1="635.30" x2="440.18" y2="643.80" stroke="#000" stroke-width="2.00"/>
<line x1="440.18" y1="1190.80" x2="440.18" y2="1199.30" stroke="#000" stroke-width="2.00"/>
<text x="425.18" y="1226.70" font-size="26.30" text-anchor="start" stroke="#000" stroke-width="0.3" textLength="29.9" lengthAdjust="spacingAndGlyphs">40</text>
<line x1="548.70" y1="635.30" x2="548.70" y2="643.80" stroke="#000" stroke-width="2.00"/>
<line x1="548.70" y1="1190.80" x2="548.70" y2="1199.30" stroke="#000" stroke-width="2.00"/>
<text x="533.70" y="1226.70" font-size="26.30" text-anchor="start" stroke="#000" stroke-width="0.3" textLength="29.9" lengthAdjust="spacingAndGlyphs">60</text>
<line x1="657.21" y1="635.30" x2="657.21" y2="643.80" stroke="#000" stroke-width="2.00"/>
<line x1="657.21" y1="1190.80" x2="657.21" y2="1199.30" stroke="#000" stroke-width="2.00"/>
<text x="642.21" y="1226.70" font-size="26.30" text-anchor="start" stroke="#000" stroke-width="0.3" textLength="29.9" lengthAdjust="spacingAndGlyphs">80</text>
<line x1="765.73" y1="635.30" x2="765.73" y2="643.80" stroke="#000" stroke-width="2.00"/>
<line x1="765.73" y1="1190.80" x2="765.73" y2="1199.30" stroke="#000" stroke-width="2.00"/>
<text x="742.78" y="1226.70" font-size="26.30" text-anchor="start" stroke="#000" stroke-width="0.3" textLength="45.8" lengthAdjust="spacingAndGlyphs">100</text>
<line x1="874.25" y1="635.30" x2="874.25" y2="643.80" stroke="#000" stroke-width="2.00"/>
<line x1="874.25" y1="1190.80" x2="874.25" y2="1199.30" stroke="#000" stroke-width="2.00"/>
<text x="851.30" y="1226.70" font-size="26.30" text-anchor="start" stroke="#000" stroke-width="0.3" textLength="45.8" lengthAdjust="spacingAndGlyphs">120</text>
<line x1="982.76" y1="635.30" x2="982.76" y2="643.80" stroke="#000" stroke-width="2.00"/>
<line x1="982.76" y1="1190.80" x2="982.76" y2="1199.30" stroke="#000" stroke-width="2.00"/>
<text x="959.81" y="1226.70" font-size="26.30" text-anchor="start" stroke="#000" stroke-width="0.3" textLength="45.8" lengthAdjust="spacingAndGlyphs">140</text>
<line x1="105.95" y1="635.72" x2="114.45" y2="635.72" stroke="#000" stroke-width="2.00"/>
<rect x="63.70" y="636.42" width="15.65" height="2.2"/><text x="82.90" y="645.42" font-size="26.30" text-anchor="start" stroke="#000" stroke-width="0.3" textLength="14.0" lengthAdjust="spacingAndGlyphs">6</text>
<line x1="105.95" y1="551.98" x2="114.45" y2="551.98" stroke="#000" stroke-width="2.00"/>
<rect x="63.70" y="552.68" width="15.65" height="2.2"/><text x="82.90" y="561.68" font-size="26.30" text-anchor="start" stroke="#000" stroke-width="0.3" textLength="14.0" lengthAdjust="spacingAndGlyphs">4</text>
<line x1="105.95" y1="468.24" x2="114.45" y2="468.24" stroke="#000" stroke-width="2.00"/>
<rect x="63.70" y="468.94" width="15.65" height="2.2"/><text x="82.90" y="477.94" font-size="26.30" text-anchor="start" stroke="#000" stroke-width="0.3" textLength="14.0" lengthAdjust="spacingAndGlyphs">2</text>
<line x1="105.95" y1="384.50" x2="114.45" y2="384.50" stroke="#000" stroke-width="2.00"/>
<text x="82.90" y="394.20" font-size="26.30" text-anchor="start" stroke="#000" stroke-width="0.3" textLength="14.0" lengthAdjust="spacingAndGlyphs">0</text>
<line x1="105.95" y1="300.76" x2="114.45" y2="300.76" stroke="#000" stroke-width="2.00"/>
<text x="82.90" y="310.46" font-size="26.30" text-anchor="start" stroke="#000" stroke-width="0.3" textLength="14.0" lengthAdjust="spacingAndGlyphs">2</text>
<line x1="105.95" y1="217.02" x2="114.45" y2="217.02" stroke="#000" stroke-width="2.00"/>
<text x="82.90" y="226.72" font-size="26.30" text-anchor="start" stroke="#000" stroke-width="0.3" textLength="14.0" lengthAdjust="spacingAndGlyphs">4</text>
<line x1="105.95" y1="1156.07" x2="114.45" y2="1156.07" stroke="#000" stroke-width="2.00"/>
<rect x="47.80" y="1156.77" width="15.65" height="2.2"/><text x="67.00" y="1165.77" font-size="26.30" text-anchor="start" stroke="#000" stroke-width="0.3" textLength="29.9" lengthAdjust="spacingAndGlyphs">10</text>
<line x1="105.95" y1="1071.79" x2="114.45" y2="1071.79" stroke="#000" stroke-width="2.00"/>
<rect x="63.70" y="1072.49" width="15.65" height="2.2"/><text x="82.90" y="1081.49" font-size="26.30" text-anchor="start" stroke="#000" stroke-width="0.3" textLength="14.0" lengthAdjust="spacingAndGlyphs">5</text>
<line x1="105.95" y1="987.50" x2="114.45" y2="987.50" stroke="#000" stroke-width="2.00"/>
<text x="82.90" y="997.20" font-size="26.30" text-anchor="start" stroke="#000" stroke-width="0.3" textLength="14.0" lengthAdjust="spacingAndGlyphs">0</text>
<line x1="105.95" y1="903.22" x2="114.45" y2="903.22" stroke="#000" stroke-width="2.00"/>
<text x="82.90" y="912.92" font-size="26.30" text-anchor="start" stroke="#000" stroke-width="0.3" textLength="14.0" lengthAdjust="spacingAndGlyphs">5</text>
<line x1="105.95" y1="818.93" x2="114.45" y2="818.93" stroke="#000" stroke-width="2.00"/>
<text x="67.00" y="828.63" font-size="26.30" text-anchor="start" stroke="#000" stroke-width="0.3" textLength="29.9" lengthAdjust="spacingAndGlyphs">10</text>
<line x1="105.95" y1="734.64" x2="114.45" y2="734.64" stroke="#000" stroke-width="2.00"/>
<text x="67.00" y="744.35" font-size="26.30" text-anchor="start" stroke="#000" stroke-width="0.3" textLength="29.9" lengthAdjust="spacingAndGlyphs">15</text>
<text x="333.10" y="37.30" font-size="51.00" text-anchor="start" font-weight="normal" stroke="#000" stroke-width="0.61" textLength="691.0" lengthAdjust="spacingAndGlyphs">abrupt-4xCO2 anomalies on</text>
<text x="194.70" y="91.50" font-size="51.00" text-anchor="start" font-weight="normal" stroke="#000" stroke-width="0.61" textLength="965.6" lengthAdjust="spacingAndGlyphs">Southern Weddell Sea continental shelf</text>
<text x="325.30" y="157.90" font-size="43.20" text-anchor="start" font-weight="normal" stroke="#000" stroke-width="0.52" textLength="494.0" lengthAdjust="spacingAndGlyphs">Salt fluxes (all depths)</text>
<text x="289.70" y="712.90" font-size="43.20" text-anchor="start" font-weight="normal" stroke="#000" stroke-width="0.52" textLength="565.4" lengthAdjust="spacingAndGlyphs">Surface freshwater fluxes</text>
<text x="536.50" y="1265.50" font-size="32.50" text-anchor="start" font-weight="normal" stroke="#000" stroke-width="0.39" textLength="72.6" lengthAdjust="spacingAndGlyphs">Year</text>
<text x="123.60" y="211.30" font-size="44.50" text-anchor="start" font-weight="bold" stroke="#000" stroke-width="0.00">a</text>
<text x="123.50" y="766.80" font-size="43.00" text-anchor="start" font-weight="bold" stroke="#000" stroke-width="0.00" textLength="29.4" lengthAdjust="spacingAndGlyphs">b</text>
<text transform="translate(43.60 403.70) rotate(-90)" font-size="32.5" text-anchor="middle" stroke="#000" stroke-width="0.38" textLength="206.4" lengthAdjust="spacingAndGlyphs"><tspan dy="0">10</tspan><tspan font-size="22" dy="-12.3">5</tspan><tspan dy="12.3"> psu m</tspan><tspan font-size="22" dy="-12.3">3</tspan><tspan dy="12.3">/s</tspan></text>
<text transform="translate(29.20 959.60) rotate(-90)" font-size="32.5" text-anchor="middle" stroke="#000" stroke-width="0.38" textLength="139.5" lengthAdjust="spacingAndGlyphs"><tspan dy="0">10</tspan><tspan font-size="22" dy="-12.3">3</tspan><tspan dy="12.3"> m</tspan><tspan font-size="22" dy="-12.3">3</tspan><tspan dy="12.3">/s</tspan></text>
<rect x="1046.50" y="312.55" width="282.00" height="181.55" rx="5" ry="5" fill="#fff" fill-opacity="0.8" stroke="#cccccc" stroke-opacity="0.7" stroke-width="2.6"/><line x1="1056" y1="336.40" x2="1118.9" y2="336.40" stroke="#ff0000" stroke-width="4.3"/><line x1="1056" y1="379.60" x2="1118.9" y2="379.60" stroke="#0230ff" stroke-width="4.3"/><line x1="1056" y1="422.80" x2="1118.9" y2="422.80" stroke="#bb22e0" stroke-width="4.3"/><line x1="1056" y1="466.00" x2="1118.9" y2="466.00" stroke="#696969" stroke-width="4.3"/><text x="1140.60" y="347.10" font-size="29.90" text-anchor="start" font-weight="normal" stroke="#000" stroke-width="0.36" textLength="146.0" lengthAdjust="spacingAndGlyphs">Advection</text><text x="1140.20" y="390.00" font-size="29.90" text-anchor="start" font-weight="normal" stroke="#000" stroke-width="0.36" textLength="129.2" lengthAdjust="spacingAndGlyphs">Diffusion</text><text x="1140.10" y="432.70" font-size="29.90" text-anchor="start" font-weight="normal" stroke="#000" stroke-width="0.36" textLength="175.6" lengthAdjust="spacingAndGlyphs">Surface flux</text><text x="1140.10" y="476.00" font-size="29.90" text-anchor="start" font-weight="normal" stroke="#000" stroke-width="0.36" textLength="73.8" lengthAdjust="spacingAndGlyphs">Total</text>
<rect x="1046.50" y="802.55" width="302.30" height="313.25" rx="5" ry="5" fill="#fff" fill-opacity="0.8" stroke="#cccccc" stroke-opacity="0.7" stroke-width="2.6"/><line x1="1056" y1="845.80" x2="1118.9" y2="845.80" stroke="#ff0a9e" stroke-width="4.3"/><line x1="1056" y1="921.70" x2="1118.9" y2="921.70" stroke="#02a6fe" stroke-width="4.3"/><line x1="1056" y1="1014.50" x2="1118.9" y2="1014.50" stroke="#069206" stroke-width="4.3"/><line x1="1056" y1="1087.40" x2="1118.9" y2="1087.40" stroke="#696969" stroke-width="4.3"/><text x="1140.40" y="836.30" font-size="29.90" text-anchor="start" font-weight="normal" stroke="#000" stroke-width="0.36" textLength="106.4" lengthAdjust="spacingAndGlyphs">Sea ice</text><text x="1140.20" y="869.40" font-size="29.90" text-anchor="start" font-weight="normal" stroke="#000" stroke-width="0.36" textLength="111.6" lengthAdjust="spacingAndGlyphs">melting</text><text x="1140.40" y="912.60" font-size="29.90" text-anchor="start" font-weight="normal" stroke="#000" stroke-width="0.36" textLength="106.4" lengthAdjust="spacingAndGlyphs">Sea ice</text><text x="1141.40" y="945.20" font-size="29.90" text-anchor="start" font-weight="normal" stroke="#000" stroke-width="0.36" textLength="118.0" lengthAdjust="spacingAndGlyphs">freezing</text><text x="1140.20" y="988.70" font-size="29.90" text-anchor="start" font-weight="normal" stroke="#000" stroke-width="0.36" textLength="184.6" lengthAdjust="spacingAndGlyphs">Precipitation</text><text x="1140.40" y="1021.50" font-size="29.90" text-anchor="start" font-weight="normal" stroke="#000" stroke-width="0.36" textLength="195.4" lengthAdjust="spacingAndGlyphs">- evaporation</text><text x="1142.00" y="1054.40" font-size="29.90" text-anchor="start" font-weight="normal" stroke="#000" stroke-width="0.36" textLength="120.2" lengthAdjust="spacingAndGlyphs">+ runoff</text><text x="1140.10" y="1097.60" font-size="29.90" text-anchor="start" font-weight="normal" stroke="#000" stroke-width="0.36" textLength="73.8" lengthAdjust="spacingAndGlyphs">Total</text>
</g>
</svg>
</body></html>
